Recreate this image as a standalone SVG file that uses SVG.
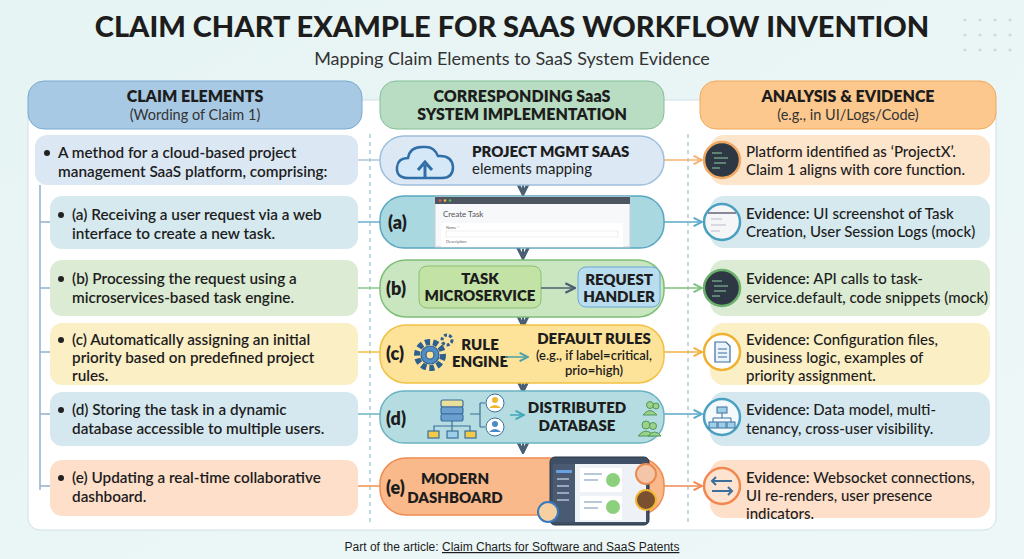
<svg xmlns="http://www.w3.org/2000/svg" width="1024" height="559" viewBox="0 0 1024 559">
<defs>
<linearGradient id="bg" x1="0" y1="0" x2="1" y2="1"><stop offset="0" stop-color="#e6f4f3"/><stop offset="1" stop-color="#eef7f8"/></linearGradient>
<marker id="ah" viewBox="0 0 10 10" refX="9" refY="5" markerWidth="7" markerHeight="7" orient="auto-start-reverse"><path d="M1,1 L9,5 L1,9" fill="none" stroke="context-stroke" stroke-width="1.8"/></marker>
<marker id="ahd" viewBox="0 0 10 10" refX="9" refY="5" markerWidth="8" markerHeight="8" orient="auto"><path d="M1,1 L9,5 L1,9" fill="none" stroke="#4a5f73" stroke-width="2"/></marker>
</defs>
<style>
text{font-family:Lato,"Open Sans","Liberation Sans",sans-serif;fill:#1d1d1d}
.t{font-weight:900;font-size:29px}
.st{font-size:18px;fill:#333}
.hb{font-weight:800;font-size:16px;text-anchor:middle}
.hs{font-size:14.5px;text-anchor:middle;fill:#333}
.lt{font-size:15.3px;font-weight:600}
.rt{font-size:15px;font-weight:500}
.lab{font-size:18px;font-weight:800}
.mb{font-size:15px;font-weight:800}
.dl{stroke:#9cc7d6;stroke-width:1.3;stroke-dasharray:4 4;fill:none}
.code{stroke:#8fd0a0;stroke-width:1.2}
</style>
<rect width="1024" height="559" fill="url(#bg)"/>
<g fill="#c8dde3"><circle cx="965" cy="20" r="1.6"/><circle cx="980" cy="20" r="1.6"/><circle cx="995" cy="20" r="1.6"/><circle cx="1010" cy="20" r="1.6"/><circle cx="965" cy="35" r="1.6"/><circle cx="980" cy="35" r="1.6"/><circle cx="995" cy="35" r="1.6"/><circle cx="1010" cy="35" r="1.6"/><circle cx="965" cy="50" r="1.6"/><circle cx="980" cy="50" r="1.6"/><circle cx="995" cy="50" r="1.6"/><circle cx="1010" cy="50" r="1.6"/></g>
<text class="t" x="512" y="37" text-anchor="middle">CLAIM CHART EXAMPLE FOR SAAS WORKFLOW INVENTION</text>
<text class="st" x="512" y="65" text-anchor="middle">Mapping Claim Elements to SaaS System Evidence</text>

<rect x="28" y="100" width="968" height="430" rx="12" fill="#ffffff" stroke="#cfe0e6"/>
<g id="hdr-left"><rect x="28" y="81" width="334" height="48" rx="16" fill="#a8c9e4" stroke="#78a9d0"/><text class="hb" x="195" y="102">CLAIM ELEMENTS</text><text class="hs" x="195" y="120">(Wording of Claim 1)</text></g>
<g id="hdr-mid"><rect x="380" y="81" width="284" height="48" rx="16" fill="#b8ddc2" stroke="#84bf98"/><text class="hb" x="522" y="102">CORRESPONDING SaaS</text><text class="hb" x="522" y="120">SYSTEM IMPLEMENTATION</text></g>
<g id="hdr-right"><rect x="700" y="81" width="296" height="48" rx="16" fill="#fcc88e" stroke="#f1a85a"/><text class="hb" x="848" y="102">ANALYSIS &amp; EVIDENCE</text><text class="hs" x="848" y="120">(e.g., in UI/Logs/Code)</text></g>

<g id="connectors" fill="none" stroke-width="1.5">
<line class="dl" x1="370" y1="134" x2="370" y2="525"/>
<line class="dl" x1="688" y1="134" x2="688" y2="525"/>
<path d="M40 185 V490" stroke="#8fb1cc"/>
<path d="M40 222 H50" stroke="#8fb1cc"/><path d="M40 288 H50" stroke="#8fb1cc"/><path d="M40 352 H50" stroke="#8fb1cc"/><path d="M40 414 H50" stroke="#8fb1cc"/><path d="M40 486 H50" stroke="#8fb1cc"/>
<path d="M358 160 H380" stroke="#b0c4d6"/><path d="M358 222 H380" stroke="#6aaed0"/><path d="M358 288 H380" stroke="#8cc68a"/><path d="M358 352 H380" stroke="#f0c040"/><path d="M358 414 H380" stroke="#6ab4c4"/><path d="M358 486 H380" stroke="#f09055"/>
<path d="M664 160 H702" stroke="#f4b070" marker-end="url(#ah)"/><path d="M664 222 H702" stroke="#5aa8c8" marker-end="url(#ah)"/><path d="M664 288 H702" stroke="#7cc07c" marker-end="url(#ah)"/><path d="M664 352 H702" stroke="#f0b040" marker-end="url(#ah)"/><path d="M664 414 H702" stroke="#5aa8c8" marker-end="url(#ah)"/><path d="M664 486 H702" stroke="#f08850" marker-end="url(#ah)"/>
<g stroke="#4a5f73" stroke-width="2"><path d="M523 185 V194" marker-end="url(#ahd)"/><path d="M523 249 V258" marker-end="url(#ahd)"/><path d="M523 317 V326" marker-end="url(#ahd)"/><path d="M523 383 V391" marker-end="url(#ahd)"/><path d="M523 443 V452" marker-end="url(#ahd)"/></g>
</g>

<!-- Left column -->
<g id="l0"><rect x="35" y="135" width="323" height="50" rx="12" fill="#dbe7f3"/><circle cx="47" cy="153" r="3" fill="#222"/><text class="lt" x="58" y="158">A method for a cloud-based project</text><text class="lt" x="58" y="177">management SaaS platform, comprising:</text></g>
<g id="la"><rect x="50" y="196" width="308" height="53" rx="12" fill="#d6e9ef"/><circle cx="61" cy="215" r="3" fill="#222"/><text class="lt" x="72" y="220">(a) Receiving a user request via a web</text><text class="lt" x="72" y="239">interface to create a new task.</text></g>
<g id="lb"><rect x="50" y="260" width="308" height="56" rx="12" fill="#dcebd3"/><circle cx="61" cy="279" r="3" fill="#222"/><text class="lt" x="72" y="284">(b) Processing the request using a</text><text class="lt" x="72" y="303">microservices-based task engine.</text></g>
<g id="lc"><rect x="50" y="323" width="308" height="62" rx="12" fill="#fbefc6"/><circle cx="61" cy="340" r="3" fill="#222"/><text class="lt" x="72" y="345">(c) Automatically assigning an initial</text><text class="lt" x="72" y="363">priority based on predefined project</text><text class="lt" x="72" y="381">rules.</text></g>
<g id="ld"><rect x="50" y="392" width="308" height="54" rx="12" fill="#d6e8ef"/><circle cx="61" cy="410" r="3" fill="#222"/><text class="lt" x="72" y="415">(d) Storing the task in a dynamic</text><text class="lt" x="72" y="434">database accessible to multiple users.</text></g>
<g id="le"><rect x="50" y="460" width="308" height="56" rx="12" fill="#fddfca"/><circle cx="61" cy="478" r="3" fill="#222"/><text class="lt" x="72" y="483">(e) Updating a real-time collaborative</text><text class="lt" x="72" y="502">dashboard.</text></g>

<!-- Middle column -->
<g id="m0"><rect x="380" y="136" width="284" height="49" rx="24" fill="#dce9f5" stroke="#9dbedc" stroke-width="1.5"/>
<path d="M408 178 Q396 178 397 167 Q398 158 408 158 Q410 146 424 147 Q434 146 438 156 Q452 155 453 167 Q453 178 442 178 Z" fill="#d4e8f8" stroke="#2f6ea6" stroke-width="2.5"/>
<path d="M425 178 V165 M418 170 L425 162 L432 170" fill="none" stroke="#2f6ea6" stroke-width="3"/>
<text class="mb" x="472" y="157">PROJECT MGMT SAAS</text><text x="472" y="174" style="font-size:15px">elements mapping</text></g>
<g id="ma"><rect x="380" y="196" width="284" height="52" rx="24" fill="#a9d8e1" stroke="#5aa6c0" stroke-width="1.5"/>
<text class="lab" x="388" y="229">(a)</text>
<rect x="435" y="197" width="195" height="50" fill="#f7f8fa" stroke="#c8cdd2"/><rect x="435" y="197" width="195" height="7" fill="#4d5560"/>
<circle cx="440" cy="200.5" r="1.3" fill="#e55"/><circle cx="445" cy="200.5" r="1.3" fill="#eb3"/><circle cx="450" cy="200.5" r="1.3" fill="#5b5"/>
<text x="443" y="217" style="font-size:8px;fill:#555">Create Task</text><rect x="441" y="223" width="182" height="24" fill="#fff"/><text x="446" y="229" style="font-size:4px;fill:#666">Name *</text><rect x="446" y="231" width="172" height="6" fill="#fff" stroke="#ddd" stroke-width="0.5"/><text x="446" y="243" style="font-size:4px;fill:#666">Description</text></g>
<g id="mb"><rect x="380" y="260" width="284" height="57" rx="26" fill="#c9e6c1" stroke="#7ebf7a" stroke-width="1.5"/>
<text class="lab" x="386" y="295">(b)</text>
<rect x="419" y="266" width="122" height="42" rx="8" fill="#c3e2a6" stroke="#8cc070"/><text class="mb" x="480" y="284" text-anchor="middle">TASK</text><text class="mb" x="480" y="301" text-anchor="middle">MICROSERVICE</text>
<path d="M541 288 H575" stroke="#4a5f73" stroke-width="1.5" marker-end="url(#ahd)"/>
<rect x="578" y="267" width="82" height="40" rx="8" fill="#b9dcef" stroke="#6aa8d4"/><text class="mb" x="619" y="285" text-anchor="middle">REQUEST</text><text class="mb" x="619" y="302" text-anchor="middle">HANDLER</text></g>
<g id="mc"><rect x="380" y="325" width="284" height="58" rx="26" fill="#fde39a" stroke="#f1c143" stroke-width="1.5"/>
<text class="lab" x="386" y="360">(c)</text>
<g fill="#4f8dc4" stroke="#2d5f8f" stroke-width="1.2"><circle cx="430" cy="355" r="13" stroke-dasharray="5 3" stroke-width="6" fill="none"/><circle cx="430" cy="355" r="9"/><circle cx="430" cy="355" r="4" fill="#fde39a"/><circle cx="447" cy="340" r="5" fill="none" stroke-width="3" stroke-dasharray="3 2"/></g>
<text class="mb" x="480" y="350" text-anchor="middle">RULE</text><text class="mb" x="480" y="367" text-anchor="middle">ENGINE</text>
<path d="M505 357 H528" stroke="#4aa0a8" stroke-width="1.5" fill="none" marker-end="url(#ah)"/>
<text class="mb" x="594" y="344" text-anchor="middle">DEFAULT RULES</text><text x="594" y="360" text-anchor="middle" style="font-size:13px;font-weight:600">(e.g., if label=critical,</text><text x="594" y="375" text-anchor="middle" style="font-size:13px;font-weight:600">prio=high)</text></g>
<g id="md"><rect x="380" y="391" width="284" height="52" rx="24" fill="#b5dde1" stroke="#6ab2c2" stroke-width="1.5"/>
<text class="lab" x="386" y="425">(d)</text>
<g stroke="#3c6f9c" stroke-width="1.2"><rect x="441" y="400" width="22" height="7" rx="2" fill="#e9df9a"/><rect x="441" y="407" width="22" height="7" rx="2" fill="#6a9fd0"/><rect x="441" y="414" width="22" height="7" rx="2" fill="#6a9fd0"/>
<path d="M452 421 V426 M434 431 V426 H470 V431 M452 426 V431" fill="none"/><rect x="428" y="431" width="11" height="7" fill="#f3c94a"/><rect x="447" y="431" width="11" height="7" fill="#9dd0e8"/><rect x="465" y="431" width="11" height="7" fill="#f3c94a"/>
<path d="M470 414 H480 M480 403 V427 M480 403 H485 M480 427 H485" fill="none"/></g>
<circle cx="495" cy="403" r="9" fill="#fff" stroke="#3c6f9c"/><circle cx="495" cy="400" r="3" fill="#f0b830"/><path d="M489 408 Q495 402 501 408" fill="#f0b830"/>
<circle cx="495" cy="427" r="9" fill="#fff" stroke="#3c6f9c"/><circle cx="495" cy="424" r="3" fill="#4a8ac8"/><path d="M489 432 Q495 426 501 432" fill="#4a8ac8"/>
<path d="M510 415 H524" stroke="#3ea8b8" stroke-width="1.5" fill="none" marker-end="url(#ah)"/>
<text class="mb" x="577" y="413" text-anchor="middle">DISTRIBUTED</text><text class="mb" x="577" y="431" text-anchor="middle">DATABASE</text>
<g fill="#9dd08a" stroke="#4d9a5a"><circle cx="650" cy="405" r="3.5"/><circle cx="656" cy="406" r="3"/><path d="M643 415 Q650 406 657 415 Z"/><circle cx="646" cy="425" r="4"/><circle cx="653" cy="426" r="3.5"/><path d="M638 436 Q646 426 654 436 Z"/><path d="M648 436 Q655 428 661 436 Z"/></g></g>
<g id="me"><rect x="380" y="458" width="284" height="57" rx="26" fill="#f9b98b" stroke="#f08c52" stroke-width="1.5"/>
<text class="lab" x="386" y="494">(e)</text>
<text class="mb" x="455" y="484" text-anchor="middle">MODERN</text><text class="mb" x="455" y="503" text-anchor="middle">DASHBOARD</text>
<rect x="550" y="457" width="99" height="68" rx="5" fill="#3e4f66" stroke="#2a3646"/><rect x="553" y="464" width="93" height="58" fill="#eef2f7"/><rect x="553" y="464" width="22" height="58" fill="#4a5a72"/>
<rect x="556" y="470" width="16" height="3" rx="1" fill="#6aa0e0"/><g fill="#9aa8ba"><rect x="557" y="478" width="12" height="2"/><rect x="557" y="485" width="12" height="2"/><rect x="557" y="492" width="12" height="2"/><rect x="557" y="499" width="12" height="2"/></g>
<rect x="580" y="468" width="42" height="24" fill="#fff"/><rect x="580" y="496" width="42" height="24" fill="#fff"/>
<g fill="#b8c8da"><rect x="584" y="473" width="18" height="2"/><rect x="584" y="479" width="14" height="2"/><rect x="584" y="501" width="18" height="2"/><rect x="584" y="507" width="14" height="2"/></g>
<circle cx="613" cy="480" r="7" fill="#8ccf7c"/><circle cx="613" cy="507" r="7" fill="#8ccf7c"/>
<circle cx="646" cy="474" r="10" fill="#f4c6a8" stroke="#e88a50" stroke-width="2"/><circle cx="646" cy="500" r="10" fill="#7a5030" stroke="#f0b830" stroke-width="2"/><circle cx="548" cy="512" r="10" fill="#f6d0a0" stroke="#3a7ac0" stroke-width="2"/></g>

<!-- Right column -->
<g id="r0"><rect x="710" y="135" width="280" height="50" rx="14" fill="#fde5cc"/><circle cx="722" cy="160" r="18" fill="#2e3744" stroke="#f0a860" stroke-width="2.5"/><g class="code"><path d="M712 153 H722 M714 158 H728 M714 163 H726 M712 168 H720"/></g><text class="rt" x="746" y="157">Platform identified as ‘ProjectX’.</text><text class="rt" x="746" y="175">Claim 1 aligns with core function.</text></g>
<g id="ra"><rect x="710" y="196" width="280" height="52" rx="14" fill="#d5e9ef"/><circle cx="722" cy="222" r="18" fill="#f4f6f8" stroke="#4aa0c0" stroke-width="2.5"/><path d="M708 213 H736" stroke="#889" stroke-width="2"/><path d="M711 219 H722 M711 225 H726 M711 231 H720" stroke="#bbc" stroke-width="1.2"/><text class="rt" x="746" y="219" style="font-weight:600">Evidence: <tspan style="font-weight:500">UI screenshot of Task</tspan></text><text class="rt" x="746" y="237">Creation, User Session Logs (mock)</text></g>
<g id="rb"><rect x="710" y="260" width="280" height="56" rx="14" fill="#dcebd3"/><circle cx="722" cy="288" r="18" fill="#2e3744" stroke="#6ab06a" stroke-width="2.5"/><g class="code"><path d="M712 281 H722 M714 286 H728 M714 291 H726 M712 296 H720"/></g><text class="rt" x="746" y="284" style="font-weight:600">Evidence: <tspan style="font-weight:500">API calls to task-</tspan></text><text class="rt" x="746" y="303">service.default, code snippets (mock)</text></g>
<g id="rc"><rect x="710" y="323" width="280" height="62" rx="14" fill="#fbefc6"/><circle cx="722" cy="352" r="18" fill="#fff" stroke="#f0b030" stroke-width="2.5"/><path d="M715 342 H726 L730 346 V362 H715 Z M718 349 H727 M718 353 H727 M718 357 H727" fill="#eaf2fb" stroke="#3c6f9c" stroke-width="1.2"/><text class="rt" x="746" y="345" style="font-weight:600">Evidence: <tspan style="font-weight:500">Configuration files,</tspan></text><text class="rt" x="746" y="363">business logic, examples of</text><text class="rt" x="746" y="381">priority assignment.</text></g>
<g id="rd"><rect x="710" y="392" width="280" height="54" rx="14" fill="#d6e8ef"/><circle cx="722" cy="417" r="18" fill="#f4fafc" stroke="#4aa0c0" stroke-width="2.5"/><g fill="#9dd0e8" stroke="#3c6f9c"><rect x="717" y="407" width="10" height="6"/><rect x="709" y="422" width="8" height="6"/><rect x="718" y="422" width="8" height="6"/><rect x="727" y="422" width="8" height="6"/><path d="M722 413 V418 M713 422 V418 H731 V422" fill="none"/></g><text class="rt" x="746" y="415" style="font-weight:600">Evidence: <tspan style="font-weight:500">Data model, multi-</tspan></text><text class="rt" x="746" y="434">tenancy, cross-user visibility.</text></g>
<g id="re"><rect x="710" y="460" width="280" height="58" rx="14" fill="#fddfca"/><circle cx="722" cy="486" r="18" fill="#fde3d0" stroke="#f08850" stroke-width="2.5"/><path d="M712 481 H732 M716 477 L712 481 L716 485 M732 491 H712 M728 487 L732 491 L728 495" fill="none" stroke="#3c6f9c" stroke-width="2"/><text class="rt" x="746" y="483" style="font-weight:600">Evidence: <tspan style="font-weight:500">Websocket connections,</tspan></text><text class="rt" x="746" y="501">UI re-renders, user presence</text><text class="rt" x="746" y="519">indicators.</text></g>

<text x="512" y="551" text-anchor="middle" style="font-size:12px;font-family:'Liberation Sans',sans-serif">Part of the article: <tspan text-decoration="underline">Claim Charts for Software and SaaS Patents</tspan></text>
</svg>
